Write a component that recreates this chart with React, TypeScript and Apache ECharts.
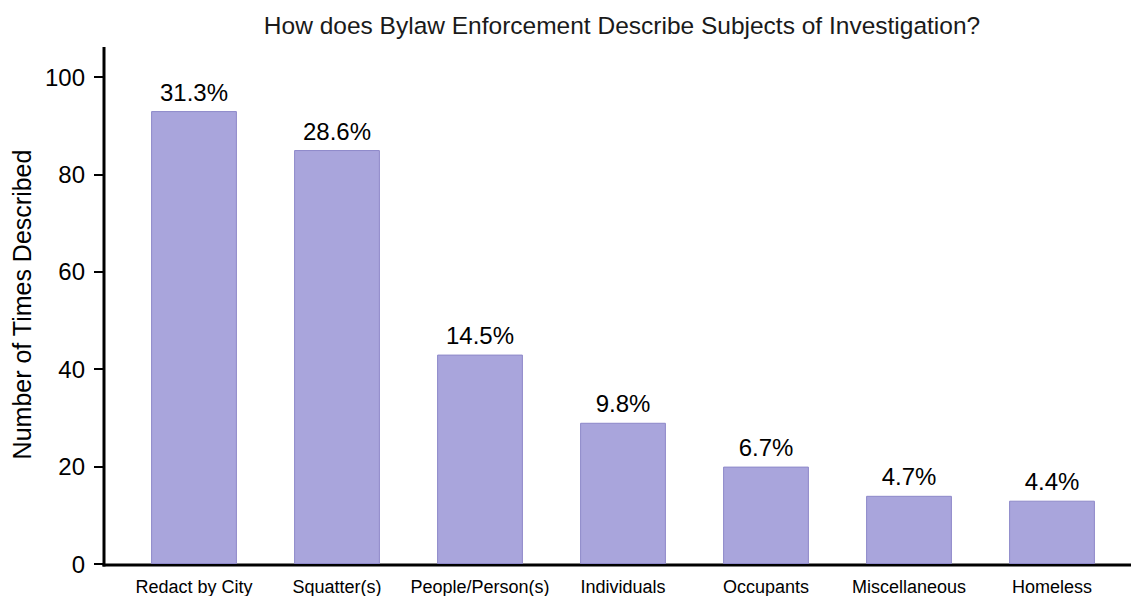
import React, { useEffect, useRef } from "react";
import * as echarts from "echarts";

const categories = ["Redact by City", "Squatter(s)", "People/Person(s)", "Individuals", "Occupants", "Miscellaneous", "Homeless"];
const counts = [93, 85, 43, 29, 20, 14, 13];
const percentLabels = ["31.3%", "28.6%", "14.5%", "9.8%", "6.7%", "4.7%", "4.4%"];

const W = 1131;
const H = 596;
const FONT = "Liberation Sans, Arial, sans-serif";

export default function App() {
  const ref = useRef<HTMLDivElement>(null);
  useEffect(() => {
    if (!ref.current) return;
    const chart = echarts.init(ref.current, undefined, { renderer: "svg", width: W, height: H });
    const gridLeft = 122.5;
    const gridRight = 7.5;
    const gridTop = 77;
    const gridBottom = 30;
    chart.setOption({
      animation: false,
      backgroundColor: "#ffffff",
      textStyle: { fontFamily: FONT },
      title: {
        text: "How does Bylaw Enforcement Describe Subjects of Investigation?",
        left: 617,
        textAlign: "center",
        top: 8,
        textStyle: { fontSize: 24.5, fontWeight: "normal", color: "#1a1a1a", fontFamily: FONT },
      },
      grid: { left: gridLeft, right: gridRight, top: gridTop, bottom: gridBottom, containLabel: false },
      xAxis: {
        type: "category",
        data: categories,
        axisLine: { show: false },
        axisTick: { show: false },
        axisLabel: { fontSize: 18, color: "#000", margin: 14, fontFamily: FONT, interval: 0 },
      },
      yAxis: {
        type: "value",
        min: 0,
        max: 100,
        interval: 20,
        offset: 18.5,
        splitLine: { show: false },
        axisLine: { show: false },
        axisTick: { show: true, length: 10, lineStyle: { color: "#000", width: 2 } },
        axisLabel: { fontSize: 24, color: "#000", margin: 19, fontFamily: FONT },
        name: "Number of Times Described",
        nameLocation: "middle",
        nameGap: 70,
        nameTextStyle: { fontSize: 25, color: "#000", fontFamily: FONT, padding: [0, 0, 0, 32] },
      },
      series: [
        {
          type: "bar",
          data: counts,
          barWidth: "60%",
          itemStyle: { color: "#a9a5dc", borderColor: "#8d88c9", borderWidth: 1 },
          label: {
            show: true,
            position: "top",
            distance: 7,
            fontSize: 24,
            color: "#000",
            fontFamily: FONT,
            formatter: (p: any) => percentLabels[p.dataIndex],
          },
        },
      ],
      graphic: [
        { type: "line", shape: { x1: 104, y1: 47, x2: 104, y2: 566.5 }, style: { stroke: "#000", lineWidth: 3 } },
        { type: "line", shape: { x1: 102.5, y1: 565, x2: W, y2: 565 }, style: { stroke: "#000", lineWidth: 3 } },
      ],
    });
    return () => chart.dispose();
  }, []);
  return <div ref={ref} style={{ position: "fixed", left: 0, top: 0, width: W, height: H }} />;
}
